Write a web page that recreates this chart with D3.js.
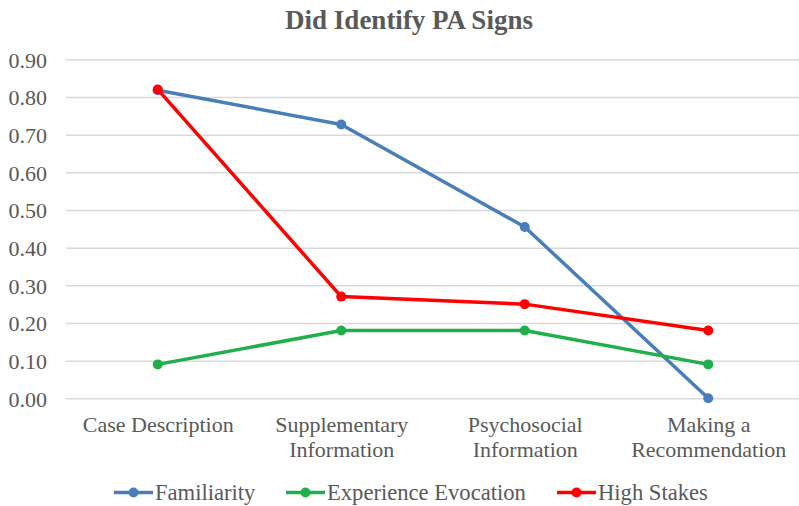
<!DOCTYPE html>
<html><head><meta charset="utf-8">
<script src="https://cdn.jsdelivr.net/npm/d3@7"></script>
<style>body{margin:0;background:#fff;}svg{display:block;}</style>
</head><body>
<script>
const categories = [["Case Description"],["Supplementary","Information"],["Psychosocial","Information"],["Making a","Recommendation"]];
const yTicks = [0,0.1,0.2,0.3,0.4,0.5,0.6,0.7,0.8,0.9];
const familiarity = [0.818, 0.727, 0.455, 0.0];
const experience = [0.09, 0.18, 0.18, 0.09];
const highStakes = [0.82, 0.27, 0.25, 0.18];
const seriesNames = ["Familiarity","Experience Evocation","High Stakes"];
const seriesColors = ["#4a7ebb","#1fb04b","#ff0000"];
const series = [familiarity, experience, highStakes];

const W=799,H=506;
const font="'Liberation Serif','Times New Roman',serif";
const svg=d3.select("body").append("svg").attr("width",W).attr("height",H);
const x=d3.scalePoint().domain(d3.range(categories.length)).range([66,800]).padding(0.5);
const y=d3.scaleLinear().domain([0,0.9]).range([398.3,59.3]);

svg.append("text").attr("x",409).attr("y",29).attr("text-anchor","middle")
  .attr("font-family",font).attr("font-weight","bold").attr("font-size",27).attr("fill","#595959")
  .text("Did Identify PA Signs");

const yAxis=svg.append("g").attr("transform","translate(66,0)")
  .call(d3.axisLeft(y).tickValues(yTicks).tickFormat(d3.format(".2f")).tickSize(-734).tickPadding(19));
yAxis.select(".domain").remove();
yAxis.selectAll(".tick line").attr("stroke","#d9d9d9").attr("stroke-width",1.5);
yAxis.selectAll(".tick text").attr("font-family",font).attr("font-size",22).attr("fill","#595959").attr("dy","0.35em");

const xAxis=svg.append("g").attr("transform","translate(0,398)")
  .call(d3.axisBottom(x).tickSize(0).tickFormat(""));
xAxis.select(".domain").remove();
xAxis.selectAll(".tick").each(function(d){
  const t=d3.select(this).append("text").attr("font-family",font).attr("font-size",22).attr("fill","#595959").attr("text-anchor","middle");
  categories[d].forEach((l,i)=>t.append("tspan").attr("x",0).attr("y",34+i*25).text(l));
});

const line=d3.line().x((d,i)=>x(i)).y(d=>y(d));
series.forEach((s,k)=>{
  svg.append("path").datum(s).attr("d",line).attr("fill","none").attr("stroke",seriesColors[k]).attr("stroke-width",3.5).attr("stroke-linejoin","round");
  svg.selectAll(null).data(s).enter().append("circle").attr("cx",(d,i)=>x(i)).attr("cy",d=>y(d)).attr("r",5).attr("fill",seriesColors[k]);
});

const legX=[114,286,557];
seriesNames.forEach((n,k)=>{
  const g=svg.append("g").attr("transform",`translate(${legX[k]},492.5)`);
  g.append("line").attr("x1",0).attr("x2",39).attr("stroke",seriesColors[k]).attr("stroke-width",3.5);
  g.append("circle").attr("cx",19.5).attr("r",5).attr("fill",seriesColors[k]);
  g.append("text").attr("x",41).attr("y",7.5).attr("font-family",font).attr("font-size",22.6).attr("fill","#595959").text(n);
});
</script>
</body></html>
